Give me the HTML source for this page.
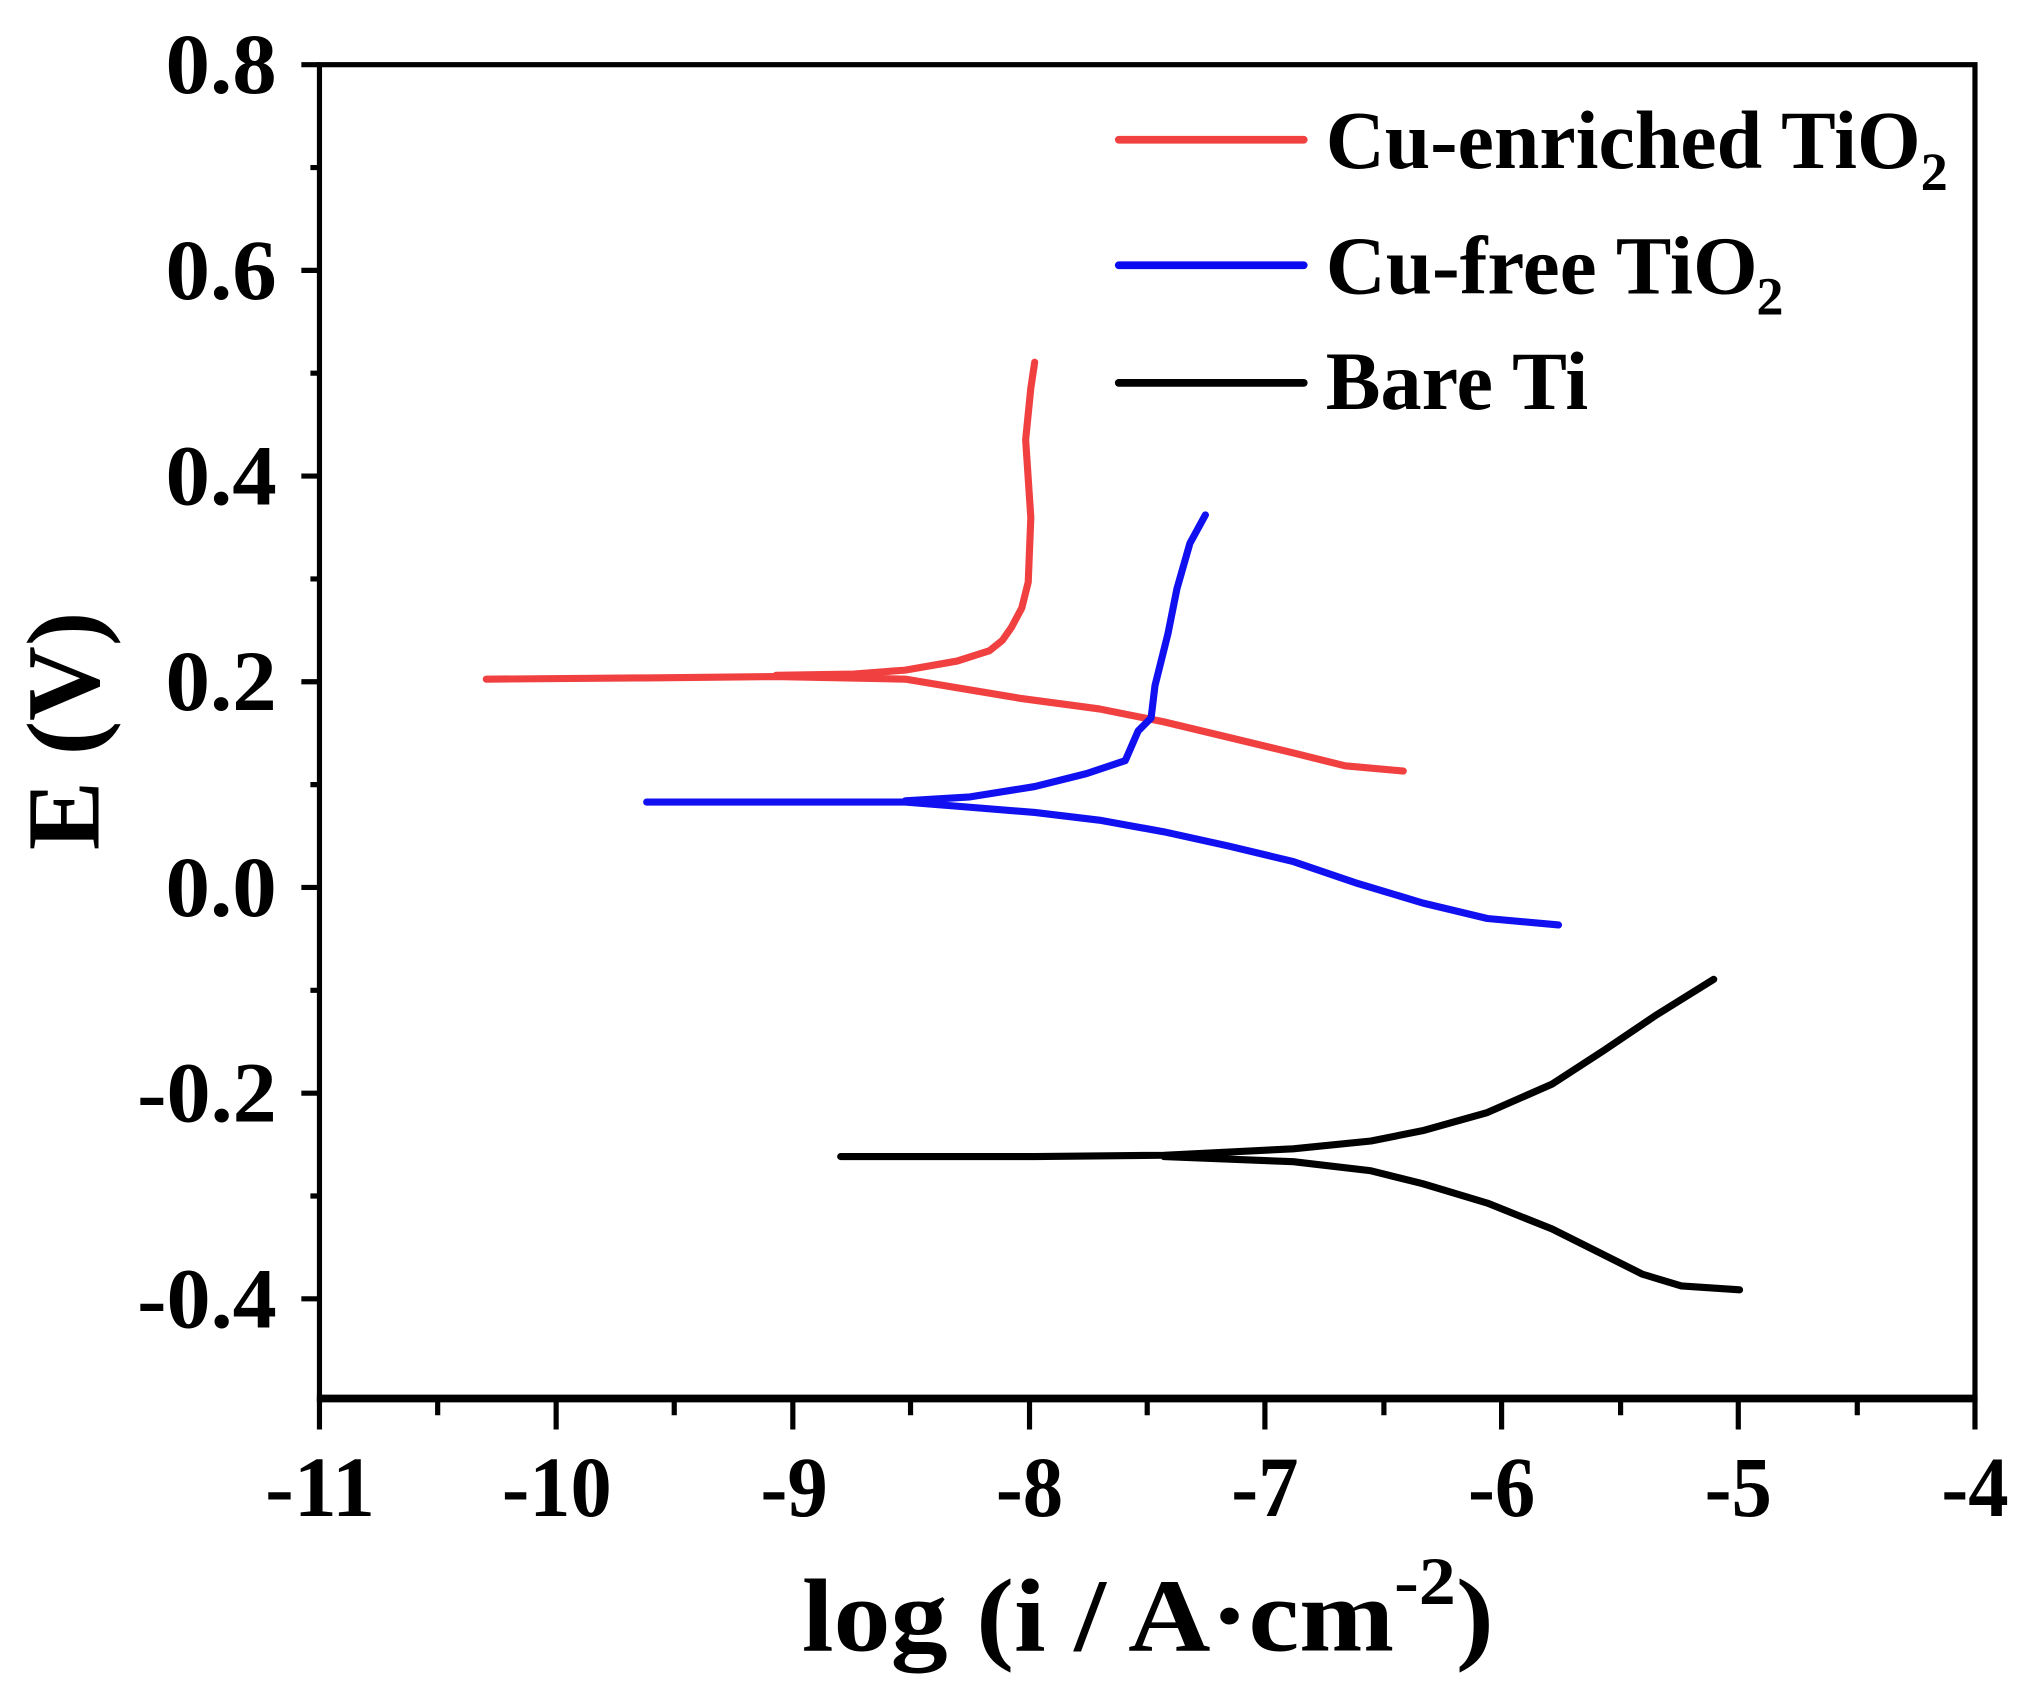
<!DOCTYPE html>
<html><head><meta charset="utf-8"><style>html,body{margin:0;padding:0;background:#fff}svg{display:block}</style></head>
<body>
<svg width="2028" height="1696" viewBox="0 0 1568 1311" preserveAspectRatio="none" xmlns="http://www.w3.org/2000/svg" font-family="Liberation Serif, serif" font-weight="bold">
<rect width="1568" height="1311" fill="#fff"/>
<g stroke="#000" fill="none">
<rect x="247" y="50" width="1280" height="1031" stroke-width="4"/>
<line x1="245" y1="1081" x2="1529" y2="1081" stroke-width="6"/>
<g stroke-width="4">
<path d="M233 50H247M233 209H247M233 368H247M233 527H247M233 686H247M233 845H247M233 1004H247"/>
<path d="M240 129.5H247M240 288.5H247M240 447.5H247M240 606.5H247M240 765.5H247M240 924.5H247"/>
<path d="M247 1081V1105M430 1081V1105M613 1081V1105M796 1081V1105M978 1081V1105M1161 1081V1105M1344 1081V1105M1527 1081V1105"/>
<path d="M338.4 1081V1094M521.3 1081V1094M704 1081V1094M887 1081V1094M1070 1081V1094M1253 1081V1094M1436 1081V1094"/>
</g>
</g>
<g font-size="66" text-anchor="end">
<text x="214" y="72" textLength="86" lengthAdjust="spacingAndGlyphs">0.8</text>
<text x="214" y="231" textLength="86" lengthAdjust="spacingAndGlyphs">0.6</text>
<text x="214" y="390" textLength="86" lengthAdjust="spacingAndGlyphs">0.4</text>
<text x="214" y="549" textLength="86" lengthAdjust="spacingAndGlyphs">0.2</text>
<text x="214" y="708" textLength="86" lengthAdjust="spacingAndGlyphs">0.0</text>
<text x="214" y="867" textLength="108" lengthAdjust="spacingAndGlyphs">-0.2</text>
<text x="214" y="1026" textLength="108" lengthAdjust="spacingAndGlyphs">-0.4</text>
</g>
<g font-size="66">
<text x="205" y="1172" textLength="85" lengthAdjust="spacingAndGlyphs">-11</text>
<text x="388" y="1172" textLength="85" lengthAdjust="spacingAndGlyphs">-10</text>
<text x="588" y="1172" textLength="52" lengthAdjust="spacingAndGlyphs">-9</text>
<text x="770" y="1172" textLength="52" lengthAdjust="spacingAndGlyphs">-8</text>
<text x="952" y="1172" textLength="52" lengthAdjust="spacingAndGlyphs">-7</text>
<text x="1135" y="1172" textLength="52" lengthAdjust="spacingAndGlyphs">-6</text>
<text x="1318" y="1172" textLength="52" lengthAdjust="spacingAndGlyphs">-5</text>
<text x="1501" y="1172" textLength="52" lengthAdjust="spacingAndGlyphs">-4</text>
</g>
<text x="620" y="1276" font-size="80" textLength="535" lengthAdjust="spacingAndGlyphs">log (i / A·cm<tspan font-size="52" dy="-36">-2</tspan><tspan dy="36">)</tspan></text>
<text transform="translate(76,565) rotate(-90)" font-size="80" text-anchor="middle">E (V)</text>
<g stroke-width="6" fill="none" stroke-linecap="round">
<line x1="865" y1="108" x2="1008" y2="108" stroke="#f04040"/>
<line x1="865" y1="205" x2="1008" y2="205" stroke="#0a0af0"/>
<line x1="865" y1="296" x2="1008" y2="296" stroke="#000"/>
</g>
<g font-size="64">
<text x="1025" y="130" textLength="460" lengthAdjust="spacingAndGlyphs">Cu-enriched TiO</text><text x="1485" y="147" font-size="42">2</text>
<text x="1025" y="227" textLength="334" lengthAdjust="spacingAndGlyphs">Cu-free TiO</text><text x="1358" y="243" font-size="42">2</text>
<text x="1025" y="316" textLength="203" lengthAdjust="spacingAndGlyphs">Bare Ti</text>
</g>
<g fill="none" stroke-width="5.5" stroke-linejoin="round" stroke-linecap="round">
<path stroke="#f04040" d="M376 525L500 524L600 523L700 525L790 540L850 548L900 558L950 570L1000 582L1040 592L1085 596"/>
<path stroke="#f04040" d="M600 522L660 521L700 518L740 511L765 503L775 495L782 485L790 470L795 450L797 400L793 340L797 300L800 280"/>
<path stroke="#1010f0" d="M500 620L600 620L700 620L750 624L800 628L850 634L900 643L950 654L1000 666L1050 683L1100 698L1150 710L1205 715"/>
<path stroke="#1010f0" d="M700 619L750 616L800 608L840 598L870 588L880 565L890 555L893 530L903 490L910 455L920 420L932 398"/>
<path stroke="#000" d="M650 894L800 894L900 893L1000 888L1060 882L1100 874L1150 860L1200 838L1240 812L1280 785L1325 757"/>
<path stroke="#000" d="M900 894L1000 898L1060 905L1100 915L1150 930L1200 950L1240 970L1270 985L1300 994L1345 997"/>
</g>
</svg>
</body></html>
